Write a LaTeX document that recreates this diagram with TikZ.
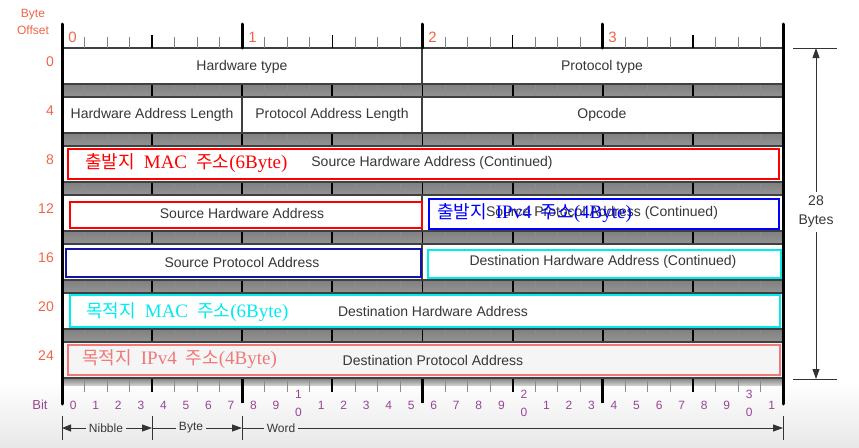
\documentclass[tikz,border=0pt]{standalone}
\usepackage{fontspec}
\setmainfont{Liberation Sans}
\newfontfamily\krfont{Noto Sans CJK KR}
\newfontfamily\srfont{Liberation Serif}
\usetikzlibrary{arrows.meta}
\definecolor{ofs}{RGB}{240,100,70}
\definecolor{bitc}{RGB}{150,70,150}
\definecolor{fldtext}{RGB}{55,55,55}
\definecolor{hlred}{RGB}{255,0,0}
\definecolor{hlblue}{RGB}{0,0,255}
\definecolor{hlnavy}{RGB}{20,20,165}
\definecolor{hlcyan}{RGB}{0,235,240}
\definecolor{hlsalmon}{RGB}{240,120,120}
\newcommand\krt[1]{{\krfont #1}}
\newcommand\srt[1]{{\srfont\fontsize{19}{21}\selectfont #1}}
\newcommand\gap{\hspace{0.5em}}
\begin{document}
\begin{tikzpicture}[x=1pt,y=-1pt,
  fld/.style={font=\fontsize{14}{16}\selectfont, text=fldtext, inner sep=1pt},
  lbl/.style={font=\fontsize{18}{21}\selectfont, anchor=west, inner sep=0pt},
  ofsl/.style={font=\fontsize{14}{16}\selectfont, text=ofs, anchor=east, inner sep=0pt},
  bytel/.style={font=\fontsize{15}{16}\selectfont, text=ofs, inner sep=0pt},
  bitn/.style={font=\fontsize{12}{14}\selectfont, text=bitc, inner sep=0pt},
  small/.style={font=\fontsize{12}{14}\selectfont, text=fldtext, inner xsep=3pt, inner ysep=1pt},
  rowline/.style={draw=black!75, line width=1.2pt},
  hl/.style={line width=2pt},
  dim/.style={draw=black!80, line width=0.9pt},
  tip/.style={-{Triangle[length=10pt,width=7pt]}},
]
\useasboundingbox (0,0) rectangle (859,447);
\shade[top color=white, bottom color=black!9] (0,380) rectangle (859,447);

% bands between rows
\foreach \r in {0,...,5}{
  \pgfmathsetmacro\ya{84+49*\r}
  \pgfmathsetmacro\yb{97+49*\r}
  \shade[top color=black!50, middle color=black!15, bottom color=black!42] (62,\ya) rectangle (783,\yb);
  \foreach \i in {1,...,31}{
    \pgfmathsetmacro\xx{62+\i*22.53125}
    \pgfmathtruncatemacro\m{mod(\i,4)}
    \ifnum\m=0 \draw[black, line width=1.8pt] (\xx,\ya) -- (\xx,\yb);
    \else \draw[black!45, line width=0.7pt] (\xx,\ya) -- (\xx,\yb); \fi
  }
}
% bottom band and ruler
\shade[top color=black!50, bottom color=black!20] (62,378) rectangle (783,385);
\foreach \i in {1,...,31}{
  \pgfmathsetmacro\xx{62+\i*22.53125}
  \pgfmathtruncatemacro\m{mod(\i,4)}
  \pgfmathtruncatemacro\b{mod(\i,8)}
  \ifnum\b=0 \draw[black, line width=3pt] (\xx,378) -- (\xx,403);
  \else\ifnum\m=0 \draw[black, line width=1.8pt] (\xx,378) -- (\xx,392);
  \else \draw[black!45, line width=0.8pt] (\xx,378) -- (\xx,392); \fi\fi
}

% rows
\foreach \r in {0,...,6}{
  \pgfmathsetmacro\ya{48+49*\r}
  \pgfmathsetmacro\yb{84+49*\r}
  \ifnum\r=6 \def\rf{black!4}\else\def\rf{white}\fi
  \filldraw[fill=\rf, rowline] (62,\ya) rectangle (783,\yb);
}
\draw[rowline] (422,48) -- (422,84);
\draw[rowline] (242,97) -- (242,133);
\draw[rowline] (422,97) -- (422,133);
\draw[rowline] (422,195) -- (422,231);
\draw[rowline] (422,244) -- (422,280);

% top ruler
\foreach \i in {1,...,31}{
  \pgfmathsetmacro\xx{62+\i*22.53125}
  \pgfmathtruncatemacro\m{mod(\i,4)}
  \pgfmathtruncatemacro\b{mod(\i,8)}
  \ifnum\b=0 \draw[black, line width=3pt, line cap=round] (\xx,24) -- (\xx,48);
  \else\ifnum\m=0 \draw[black, line width=1.6pt] (\xx,35) -- (\xx,48);
  \else \draw[black!50, line width=0.8pt] (\xx,37) -- (\xx,48); \fi\fi
}
\draw[black, line width=3pt, line cap=round] (62,24) -- (62,404);
\draw[black, line width=3pt, line cap=round] (783,24) -- (783,404);

% labels of ruler
\node[font=\fontsize{12}{17}\selectfont, text=ofs, align=center, inner sep=0pt] (bo) at (33,22) {Byte\\Offset};
\node[bytel] (by0) at (72.5,37) {0};
\node[bytel] (by1) at (252.5,37) {1};
\node[bytel] (by2) at (432.5,37) {2};
\node[bytel] (by3) at (612.5,37) {3};
\foreach \k/\v in {0/0,1/4,2/8,3/12,4/16,5/20,6/24}{
  \node[ofsl] (of\v) at (54,{61.5+49*\k}) {\v};
}

% field texts
\node[fld] (hwt) at (242,67) {Hardware type};
\node[fld] (prt) at (602,67) {Protocol type};
\node[fld] (hal) at (152,115) {Hardware Address Length};
\node[fld] (pal) at (332,115) {Protocol Address Length};
\node[fld] (opc) at (602,115) {Opcode};
\node[fld] (shac) at (432,163) {Source Hardware Address (Continued)};
\node[fld] (sha) at (242,213) {Source Hardware Address};
\node[fld] (spac) at (602,213) {Source Protocol Address (Continued)};
\node[fld] (spa) at (242,262) {Source Protocol Address};
\node[fld] (dhac) at (603,262) {Destination Hardware Address (Continued)};
\node[fld] (dha) at (433,311) {Destination Hardware Address};
\node[fld] (dpa) at (433,360) {Destination Protocol Address};

% highlight boxes
\draw[hl, hlred] (68,149) rectangle (779,179);
\draw[hl, hlred] (70,202) rectangle (422,228);
\draw[hl, hlblue] (429,199) rectangle (779,229);
\draw[hl, hlnavy] (66,249) rectangle (421,277);
\draw[hl, hlcyan] (428,250) rectangle (781,278);
\draw[hl, hlcyan] (70,295) rectangle (780,327);
\draw[hl, hlsalmon] (68,345) rectangle (780,375);

% korean labels
\node[lbl, text=hlred] (k1) at (85,163) {\krt{출발지}\gap\srt{MAC}\gap\krt{주소}\srt{(6Byte)}};
\node[lbl, text=hlblue] (k2) at (437,213) {\krt{출발지}\gap\srt{IPv4}\gap\krt{주소}\srt{(4Byte)}};
\node[lbl, text=hlcyan] (k3) at (86,312) {\krt{목적지}\gap\srt{MAC}\gap\krt{주소}\srt{(6Byte)}};
\node[lbl, text=hlsalmon] (k4) at (82,359) {\krt{목적지}\gap\srt{IPv4}\gap\krt{주소}\srt{(4Byte)}};

% bit numbers
\node[font=\fontsize{13}{14}\selectfont, text=bitc, inner sep=0pt] (bitl) at (40,405) {Bit};
\foreach \i in {0,...,31}{
  \pgfmathsetmacro\xc{62+(\i+0.5)*22.53125}
  \pgfmathtruncatemacro\units{mod(\i,10)}
  \pgfmathtruncatemacro\tens{int(\i/10)}
  \ifnum\units=0 \ifnum\i>0
    \node[bitn] (bt\i) at (\xc,394) {\tens};
    \node[bitn] (bb\i) at (\xc,412) {0};
  \else
    \node[bitn] (b\i) at (\xc,405) {0};
  \fi
  \else
    \node[bitn] (b\i) at (\xc,405) {\units};
  \fi
}

% nibble / byte / word
\foreach \x in {62,152,242,783}{ \draw[dim] (\x,416) -- (\x,440); }
\coordinate (n0) at (62,428);
\coordinate (n1) at (152,428);
\coordinate (n2) at (242,428);
\coordinate (n3) at (783,428);
\node[small] (nib) at (106,428) {Nibble};
\node[small] (byt) at (191,428) {Byte};
\node[small] (wrd) at (281,428) {Word};
\draw[dim, {Triangle[length=9pt,width=7pt]}-] (n0) -- (nib.west);
\draw[dim, tip] (nib.east) -- (n1);
\draw[dim] (n1) -- (byt.west);
\draw[dim, tip] (byt.east) -- (n2);
\draw[dim] (n2) -- (wrd.west);
\draw[dim, tip] (wrd.east) -- (n3);

% 28 bytes dimension
\coordinate (dimT) at (816,48);
\coordinate (dimB) at (816,379);
\coordinate (dimTL) at (793,48);
\coordinate (dimTR) at (837,48);
\coordinate (dimBL) at (793,379);
\coordinate (dimBR) at (837,379);
\draw[dim] (dimTL) -- (dimTR);
\draw[dim] (dimBL) -- (dimBR);
\node[font=\fontsize{14}{19}\selectfont, text=fldtext, align=center, inner xsep=0pt, inner ysep=4pt] (bytes) at (816,212) {28\\Bytes};
\draw[dim, tip] (bytes.north) -- (dimT);
\draw[dim, tip] (bytes.south) -- (dimB);
\end{tikzpicture}
\end{document}
